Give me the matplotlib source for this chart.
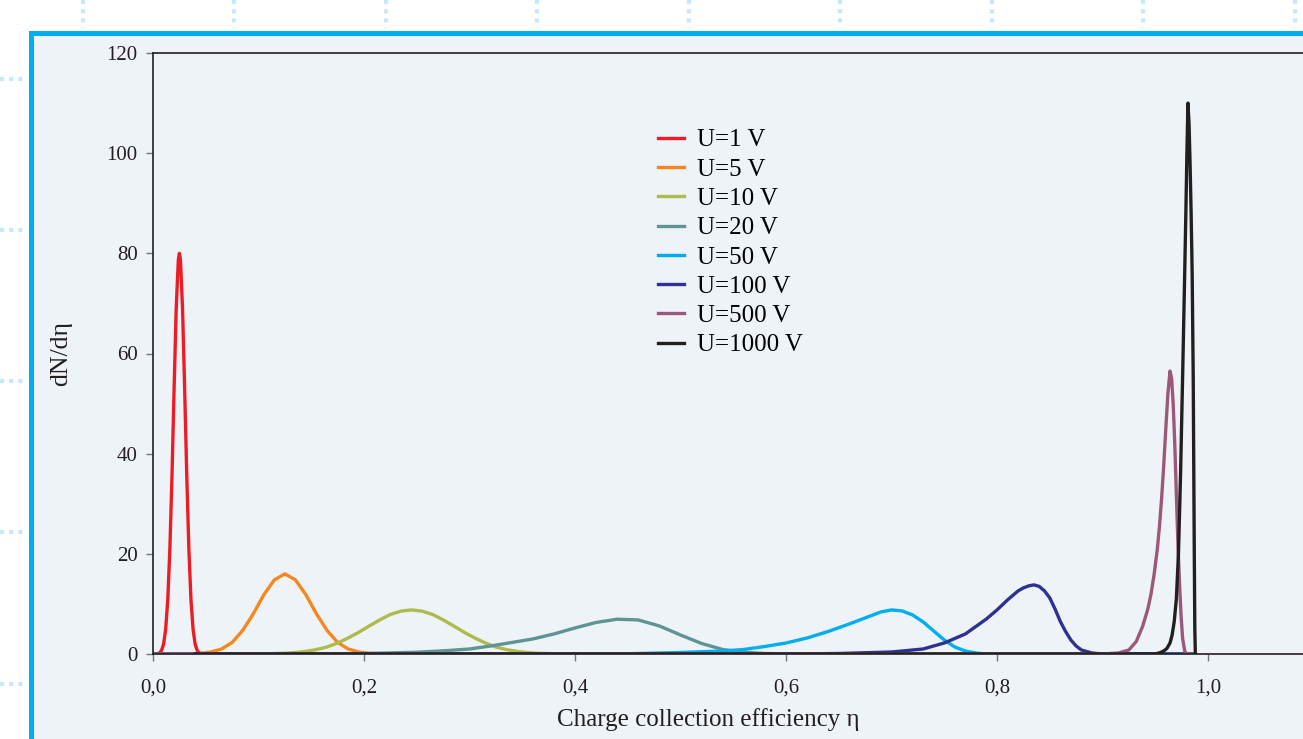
import matplotlib
matplotlib.use('Agg')
import matplotlib.pyplot as plt
from matplotlib.patches import Rectangle
from matplotlib.lines import Line2D
from matplotlib.ticker import FuncFormatter

# values (eta, dN/deta)
red_x = [0.0, 0.004, 0.006, 0.008, 0.010, 0.012, 0.014, 0.016, 0.018, 0.020, 0.022, 0.024, 0.025,
         0.026, 0.028, 0.030, 0.032, 0.034, 0.036, 0.038, 0.040, 0.042, 0.044, 0.048, 0.988]
red_y = [0.0, 0.05, 0.2, 0.67, 1.9, 4.9, 10.8, 21, 35.6, 53, 69, 78.7, 80,
         78.7, 69, 53, 35.6, 21, 10.8, 4.9, 1.9, 0.67, 0.2, 0.02, 0.0]

orange_x = [0.0, 0.035, 0.045, 0.055, 0.065, 0.075, 0.085, 0.095, 0.105, 0.115, 0.125,
            0.135, 0.145, 0.155, 0.165, 0.175, 0.185, 0.195, 0.205, 0.215, 0.988]
orange_y = [0.0, 0.03, 0.12, 0.4, 1.0, 2.3, 4.7, 8.0, 11.8, 14.8, 16.0,
            14.8, 11.8, 8.0, 4.7, 2.3, 1.0, 0.4, 0.12, 0.03, 0.0]

olive_x = [0.0, 0.105, 0.125, 0.135, 0.145, 0.155, 0.165, 0.175, 0.185, 0.195, 0.205, 0.215, 0.225, 0.235, 0.245,
           0.255, 0.265, 0.275, 0.285, 0.295, 0.305, 0.315, 0.325, 0.335, 0.345, 0.355, 0.365, 0.385, 0.988]
olive_y = [0.0, 0.03, 0.15, 0.29, 0.52, 0.89, 1.4, 2.2, 3.2, 4.33, 5.6, 6.82, 7.9, 8.56, 8.8,
           8.56, 7.9, 6.82, 5.6, 4.33, 3.2, 2.2, 1.4, 0.89, 0.52, 0.29, 0.15, 0.03, 0.0]

teal_x = [0.0, 0.15, 0.20, 0.25, 0.28, 0.30, 0.32, 0.34, 0.36, 0.38, 0.40, 0.42, 0.44, 0.46, 0.48, 0.50, 0.52, 0.54, 0.56, 0.58, 0.61, 0.988]
teal_y = [0.0, 0.02, 0.1, 0.35, 0.7, 1.0, 1.6, 2.3, 3.0, 4.0, 5.2, 6.3, 6.95, 6.8, 5.6, 3.8, 2.1, 0.9, 0.35, 0.1, 0.0, 0.0]

cyan_x = [0.0, 0.40, 0.45, 0.50, 0.54, 0.56, 0.58, 0.60, 0.62, 0.64, 0.66, 0.68, 0.69, 0.70, 0.71, 0.72, 0.73, 0.74, 0.75, 0.76, 0.77, 0.78, 0.79, 0.988]
cyan_y = [0.0, 0.0, 0.05, 0.3, 0.6, 0.9, 1.5, 2.2, 3.2, 4.5, 6.0, 7.6, 8.4, 8.8, 8.6, 7.8, 6.4, 4.6, 2.8, 1.4, 0.6, 0.2, 0.0, 0.0]

navy_x = [0.0, 0.60, 0.65, 0.70, 0.73, 0.75, 0.77, 0.79, 0.80, 0.81, 0.82, 0.825, 0.83, 0.835, 0.84, 0.845,
          0.85, 0.855, 0.86, 0.865, 0.87, 0.875, 0.88, 0.89, 0.90, 0.988]
navy_y = [0.0, 0.0, 0.1, 0.4, 1.0, 2.2, 4.0, 7.0, 8.8, 10.8, 12.6, 13.2, 13.6, 13.8, 13.5, 12.6,
          11.2, 9.0, 6.5, 4.5, 2.8, 1.6, 0.8, 0.2, 0.0, 0.0]

mauve_x = [0.0, 0.90, 0.915, 0.925, 0.932, 0.938, 0.943, 0.946, 0.949, 0.952, 0.954, 0.956, 0.958, 0.960, 0.962, 0.964,
           0.9655, 0.967, 0.9685, 0.970, 0.9715, 0.973, 0.9745, 0.976, 0.978, 0.980, 0.988]
mauve_y = [0.0, 0.0, 0.2, 0.8, 2.5, 5.5, 9.0, 12, 16, 21, 25.5, 31, 37.5, 45, 52, 56.5,
           55, 50, 42, 32, 22, 14, 7.5, 3.0, 0.5, 0.0, 0.0]

black_x = [0.04, 0.95, 0.955, 0.958, 0.961, 0.964, 0.966, 0.968, 0.970, 0.972, 0.974, 0.976, 0.978, 0.979, 0.980, 0.981,
           0.982, 0.983, 0.984, 0.985, 0.986, 0.987, 0.9875, 0.988]
black_y = [0.0, 0.0, 0.3, 0.6, 1.1, 2.2, 3.8, 6.5, 11, 20, 36, 56, 77, 88, 100, 110,
           106, 98, 88, 76, 55, 20, 5, 0.0]

labels = ['U=1 V', 'U=5 V', 'U=10 V', 'U=20 V', 'U=50 V', 'U=100 V', 'U=500 V', 'U=1000 V']
colors = ['#ed1c24', '#f7861f', '#adbb4c', '#5e9493', '#00aeef', '#2e3192', '#9b5878', '#231f20']
series = [(red_x, red_y), (orange_x, orange_y), (olive_x, olive_y), (teal_x, teal_y),
          (cyan_x, cyan_y), (navy_x, navy_y), (mauve_x, mauve_y), (black_x, black_y)]

W, H = 1303, 739
plt.rcParams['font.family'] = ['Liberation Serif', 'DejaVu Serif']
ink = '#231f20'

fig = plt.figure(figsize=(W / 100, H / 100), dpi=100)
fig.patch.set_facecolor('white')

def fx(px):
    return px / W

def fy(py):
    return 1 - py / H

# panel background and cyan frame
fig.patches.append(Rectangle((fx(34), 0), 1, fy(36), transform=fig.transFigure,
                             facecolor='#eef3f8', edgecolor='none', zorder=0))
fig.patches.append(Rectangle((fx(29), fy(36)), 1, 5 / H, transform=fig.transFigure,
                             facecolor='#00aeef', edgecolor='none', zorder=1))
fig.patches.append(Rectangle((fx(29), 0), 5 / W, fy(31), transform=fig.transFigure,
                             facecolor='#00aeef', edgecolor='none', zorder=1))

# dotted guides outside the frame
for px in [83, 234, 386, 537, 689, 840, 992, 1143, 1295]:
    fig.lines.append(Line2D([fx(px), fx(px)], [fy(0), fy(28)], transform=fig.transFigure,
                            color='#c6e8f8', lw=3, dashes=(1, 1.2)))
for py in [79, 230, 381, 532, 684]:
    fig.lines.append(Line2D([fx(0), fx(27)], [fy(py), fy(py)], transform=fig.transFigure,
                            color='#c6e8f8', lw=3, dashes=(1, 1.2)))

x_max = 1.1
left, right, top, bottom = 153, 153 + 1055 * x_max, 53, 654
ax = fig.add_axes([fx(left), fy(bottom), (right - left) / W, (bottom - top) / H])
ax.set_facecolor('none')
ax.set_zorder(5)

for (x, y), c, lab in zip(series, colors, labels):
    ax.plot(x, y, color=c, lw=2.4, label=lab, solid_joinstyle='round')

ax.set_xlim(0, x_max)
ax.set_ylim(0, 120)
ax.set_xticks([0.0, 0.2, 0.4, 0.6, 0.8, 1.0])
ax.set_yticks(range(0, 121, 20))
ax.xaxis.set_major_formatter(FuncFormatter(lambda v, p: f'{v:.1f}'.replace('.', ',')))
ax.tick_params(direction='out', length=5, width=1, color='#777777', labelsize=15,
               labelcolor=ink)
ax.tick_params(axis='x', pad=13)
ax.tick_params(axis='y', pad=6)
for s in ['left', 'top', 'bottom']:
    ax.spines[s].set_color(ink)
    ax.spines[s].set_linewidth(1.2)
ax.spines['right'].set_visible(False)

ax.set_xlabel('Charge collection efficiency η', fontsize=18, color=ink)
ax.xaxis.set_label_coords((708 - left) / (right - left), -0.09)
ax.set_ylabel('dN/dη', fontsize=18.5, color=ink)
ax.yaxis.set_label_coords(-0.07, 0.5)

ax.legend(loc='upper left', bbox_to_anchor=((648 - left) / (right - left), (654 - 119) / 601),
          frameon=False, fontsize=18, handlelength=1.05, handletextpad=0.5,
          labelspacing=0.27, borderaxespad=0)

fig.savefig('out.png', dpi=100)
